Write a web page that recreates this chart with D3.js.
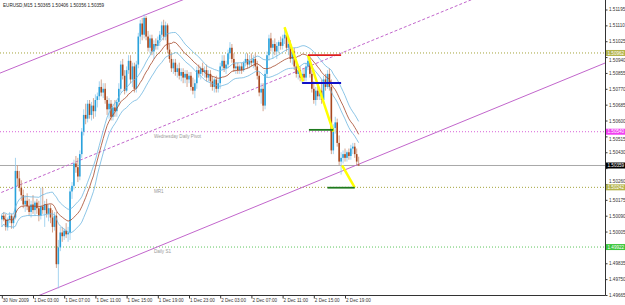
<!DOCTYPE html>
<html>
<head>
<meta charset="utf-8">
<script src="https://cdn.jsdelivr.net/npm/d3@7/dist/d3.min.js"></script>
<style>
    body { margin: 0; background: #fff; }
    svg { display: block; font-family: "Liberation Sans", Arial, sans-serif; }
</style>
</head>
<body>
<div id="chart"></div>
<script>

var title = "EURUSD,M15  1.50365 1.50406 1.50356 1.50359";

// M15 bars, [open, high, low, close], first bar 30 Nov 23:00
var bars = [
    [1.5007,1.5010,1.5003,1.5009],[1.5009,1.5011,1.5006,1.5007],[1.5007,1.5010,1.5001,1.5003],[1.5003,1.5008,1.5001,1.5007],
    [1.5007,1.5011,1.5005,1.5009],[1.5009,1.5010,1.5002,1.5005],[1.5005,1.5009,1.5002,1.5008],[1.5008,1.5040,1.5007,1.5033],
    [1.5033,1.5036,1.5025,1.5029],[1.5029,1.5033,1.5022,1.5024],[1.5024,1.5028,1.5017,1.5020],[1.5020,1.5023,1.5013,1.5015],
    [1.5015,1.5020,1.5011,1.5017],[1.5017,1.5021,1.5012,1.5014],[1.5014,1.5018,1.5009,1.5011],[1.5011,1.5017,1.5008,1.5015],
    [1.5015,1.5020,1.5010,1.5012],[1.5012,1.5017,1.5009,1.5016],[1.5016,1.5018,1.5010,1.5013],[1.5013,1.5017,1.5006,1.5009],
    [1.5009,1.5024,1.5007,1.5014],[1.5014,1.5024,1.5010,1.5012],[1.5012,1.5017,1.5003,1.5015],[1.5015,1.5018,1.5008,1.5010],
    [1.5010,1.5015,1.5006,1.5013],[1.5013,1.5015,1.5005,1.5008],[1.5008,1.5012,1.5000,1.5003],[1.5003,1.5011,1.5001,1.5009],
    [1.5009,1.5011,1.4981,1.4983],[1.4983,1.4996,1.4970,1.4992],[1.4992,1.5003,1.4990,1.5000],[1.5000,1.5003,1.4995,1.4998],
    [1.4998,1.5002,1.4996,1.5001],[1.5001,1.5005,1.4997,1.4999],[1.4999,1.5003,1.4995,1.5000],[1.5000,1.5024,1.4996,1.5022],
    [1.5022,1.5027,1.5018,1.5025],[1.5025,1.5039,1.5023,1.5037],[1.5037,1.5041,1.5032,1.5035],[1.5035,1.5040,1.5027,1.5030],
    [1.5030,1.5044,1.5028,1.5042],[1.5042,1.5056,1.5040,1.5054],[1.5054,1.5066,1.5052,1.5063],[1.5063,1.5069,1.5058,1.5061],
    [1.5061,1.5071,1.5059,1.5069],[1.5069,1.5071,1.5061,1.5063],[1.5063,1.5070,1.5060,1.5068],[1.5068,1.5072,1.5061,1.5065],
    [1.5065,1.5074,1.5062,1.5071],[1.5071,1.5075,1.5067,1.5073],[1.5073,1.5081,1.5071,1.5078],[1.5078,1.5082,1.5073,1.5075],
    [1.5075,1.5080,1.5072,1.5077],[1.5077,1.5080,1.5069,1.5071],[1.5071,1.5073,1.5063,1.5066],[1.5066,1.5072,1.5061,1.5069],
    [1.5069,1.5071,1.5060,1.5062],[1.5062,1.5069,1.5060,1.5067],[1.5067,1.5071,1.5062,1.5065],[1.5065,1.5071,1.5062,1.5070],
    [1.5070,1.5080,1.5068,1.5077],[1.5077,1.5092,1.5075,1.5090],[1.5090,1.5093,1.5082,1.5084],[1.5084,1.5087,1.5074,1.5076],
    [1.5076,1.5089,1.5075,1.5087],[1.5087,1.5095,1.5085,1.5092],[1.5092,1.5095,1.5080,1.5082],[1.5082,1.5091,1.5078,1.5089],
    [1.5089,1.5091,1.5075,1.5077],[1.5077,1.5092,1.5075,1.5090],[1.5090,1.5107,1.5088,1.5105],[1.5105,1.5114,1.5101,1.5112],
    [1.5112,1.5115,1.5103,1.5106],[1.5106,1.5117,1.5104,1.5115],[1.5115,1.5116,1.5103,1.5105],[1.5105,1.5108,1.5097,1.5099],
    [1.5099,1.5106,1.5096,1.5104],[1.5104,1.5106,1.5095,1.5097],[1.5097,1.5103,1.5093,1.5101],[1.5101,1.5104,1.5098,1.5100],
    [1.5100,1.5105,1.5098,1.5103],[1.5103,1.5108,1.5100,1.5106],[1.5106,1.5113,1.5104,1.5111],[1.5111,1.5114,1.5103,1.5105],
    [1.5105,1.5113,1.5103,1.5111],[1.5111,1.5112,1.5096,1.5098],[1.5098,1.5101,1.5091,1.5093],[1.5093,1.5096,1.5086,1.5088],
    [1.5088,1.5093,1.5085,1.5091],[1.5091,1.5093,1.5084,1.5086],[1.5086,1.5090,1.5083,1.5088],[1.5088,1.5091,1.5082,1.5084],
    [1.5084,1.5088,1.5081,1.5086],[1.5086,1.5088,1.5080,1.5083],[1.5083,1.5087,1.5080,1.5085],[1.5085,1.5087,1.5078,1.5082],
    [1.5082,1.5086,1.5080,1.5084],[1.5084,1.5086,1.5076,1.5078],[1.5078,1.5083,1.5074,1.5076],[1.5076,1.5082,1.5072,1.5080],
    [1.5080,1.5089,1.5077,1.5087],[1.5087,1.5090,1.5083,1.5085],[1.5085,1.5089,1.5082,1.5088],[1.5088,1.5091,1.5084,1.5086],
    [1.5086,1.5089,1.5083,1.5087],[1.5087,1.5090,1.5081,1.5083],[1.5083,1.5087,1.5081,1.5085],[1.5085,1.5087,1.5078,1.5081],
    [1.5081,1.5084,1.5076,1.5078],[1.5078,1.5083,1.5075,1.5082],[1.5082,1.5084,1.5075,1.5077],[1.5077,1.5082,1.5075,1.5080],
    [1.5080,1.5091,1.5077,1.5089],[1.5089,1.5095,1.5087,1.5092],[1.5092,1.5095,1.5086,1.5088],[1.5088,1.5092,1.5085,1.5090],
    [1.5090,1.5098,1.5088,1.5096],[1.5096,1.5102,1.5093,1.5099],[1.5099,1.5101,1.5091,1.5093],[1.5093,1.5096,1.5086,1.5088],
    [1.5088,1.5091,1.5085,1.5089],[1.5089,1.5091,1.5085,1.5087],[1.5087,1.5090,1.5085,1.5089],[1.5089,1.5091,1.5085,1.5087],
    [1.5087,1.5092,1.5086,1.5091],[1.5091,1.5096,1.5089,1.5093],[1.5093,1.5096,1.5088,1.5090],[1.5090,1.5095,1.5088,1.5092],
    [1.5092,1.5096,1.5089,1.5091],[1.5091,1.5095,1.5088,1.5093],[1.5093,1.5096,1.5087,1.5089],[1.5089,1.5092,1.5082,1.5084],
    [1.5084,1.5086,1.5073,1.5075],[1.5075,1.5080,1.5069,1.5077],[1.5077,1.5080,1.5065,1.5068],[1.5068,1.5087,1.5066,1.5085],
    [1.5085,1.5097,1.5083,1.5095],[1.5095,1.5106,1.5092,1.5104],[1.5104,1.5107,1.5097,1.5099],[1.5099,1.5103,1.5093,1.5101],
    [1.5101,1.5104,1.5095,1.5097],[1.5097,1.5102,1.5093,1.5100],[1.5100,1.5103,1.5096,1.5102],[1.5102,1.5105,1.5098,1.5100],
    [1.5100,1.5106,1.5098,1.5104],[1.5104,1.5110,1.5101,1.5106],[1.5106,1.5108,1.5097,1.5099],[1.5099,1.5103,1.5095,1.5101],
    [1.5101,1.5103,1.5091,1.5093],[1.5093,1.5099,1.5090,1.5097],[1.5097,1.5099,1.5087,1.5089],[1.5089,1.5093,1.5083,1.5085],
    [1.5085,1.5090,1.5082,1.5087],[1.5087,1.5089,1.5081,1.5083],[1.5083,1.5087,1.5080,1.5085],[1.5085,1.5088,1.5081,1.5083],
    [1.5083,1.5091,1.5081,1.5089],[1.5089,1.5095,1.5087,1.5092],[1.5092,1.5095,1.5083,1.5085],[1.5085,1.5087,1.5075,1.5077],
    [1.5077,1.5081,1.5069,1.5071],[1.5071,1.5078,1.5068,1.5076],[1.5076,1.5080,1.5071,1.5073],[1.5073,1.5078,1.5071,1.5076],
    [1.5076,1.5082,1.5069,1.5071],[1.5071,1.5084,1.5070,1.5082],[1.5082,1.5085,1.5076,1.5078],[1.5078,1.5087,1.5077,1.5085],
    [1.5085,1.5088,1.5076,1.5078],[1.5078,1.5082,1.5042,1.5044],[1.5044,1.5058,1.5042,1.5056],[1.5056,1.5062,1.5053,1.5059],
    [1.5059,1.5061,1.5046,1.5048],[1.5048,1.5052,1.5036,1.5038],[1.5038,1.5043,1.5031,1.5040],[1.5040,1.5044,1.5037,1.5042],
    [1.5042,1.5045,1.5038,1.5040],[1.5040,1.5044,1.5038,1.5043],[1.5043,1.5045,1.5039,1.5041],[1.5041,1.5047,1.5039,1.5045],
    [1.5045,1.5048,1.5042,1.5046],[1.5046,1.5048,1.5040,1.5042],[1.5042,1.5045,1.5036,1.5038],[1.50365,1.50406,1.50356,1.50359]
];

var timeLabels = ["30 Nov 2009", "1 Dec 03:00", "1 Dec 07:00", "1 Dec 11:00", "1 Dec 15:00", "1 Dec 19:00",
    "1 Dec 23:00", "2 Dec 03:00", "2 Dec 07:00", "2 Dec 11:00", "2 Dec 15:00", "2 Dec 19:00"];
var timeLabelBars = [0, 16, 32, 48, 64, 80, 96, 112, 128, 144, 160, 176];

var priceTicks = [1.51195, 1.51110, 1.51025, 1.50940, 1.50855, 1.50770, 1.50685, 1.50600, 1.50515, 1.50430,
    1.50345, 1.50260, 1.50175, 1.50090, 1.50005, 1.49920, 1.49835, 1.49750, 1.49665];

// pivot levels drawn as dotted horizontal lines
var levelNames = ["", "Wednesday  Daily Pivot", "MR1", "Daily S1"];
var levelPrices = [1.50962, 1.50540, 1.50242, 1.49922];
var bidPrice = 1.50359;

// trend channel, [bar, price] anchors
var channelTop = [[16, 1.50925], [90, 1.51235]];
var channelMid = [[16, 1.50284], [153, 1.50871]];
var channelLow = [[60, 1.49838], [180, 1.50353]];

// yellow swing lines and short level marks, [bar0, price0, bar1, price1]
var swingLines = [[145, 1.5110, 154.5, 1.5081], [157, 1.5095, 170, 1.5054], [174.5, 1.5036, 181, 1.5024]];
var markRed = [157, 1.50951, 174, 1.50951];
var markBlue = [154, 1.50801, 174, 1.50801];
var markGreen = [[157.5, 1.5055, 170, 1.5055], [167, 1.5024, 181, 1.5024]];

var maPeriod = 20;

(function() {
    var W = 625, H = 305,
        plotW = 605, plotH = 295;

    var svg = d3.select("#chart").append("svg")
        .attr("width", W).attr("height", H);

    var x = d3.scaleLinear().domain([0, 183]).range([1.8, 1.8 + 1.95 * 183]);
    var y = d3.scaleLinear().domain([1.49665, 1.51195]).range([295, 9.5]);

    svg.append("rect").attr("width", W).attr("height", H).attr("fill", "#fff");

    svg.append("defs").append("clipPath").attr("id", "plot-clip")
        .append("rect").attr("x", 0).attr("y", 0).attr("width", plotW).attr("height", plotH);

    var plot = svg.append("g").attr("clip-path", "url(#plot-clip)");

    // pivot levels
    var levelColors = ["#a3a33a", "#d860d8", "#a3a33a", "#5cc65c"];
    levelPrices.forEach(function(p, i) {
        plot.append("line")
            .attr("x1", 0).attr("x2", plotW)
            .attr("y1", y(p)).attr("y2", y(p))
            .attr("stroke", levelColors[i])
            .attr("stroke-width", 1)
            .attr("stroke-dasharray", "1,2");
        if (levelNames[i]) {
            plot.append("text")
                .attr("x", x(78)).attr("y", y(p) + 6)
                .attr("font-size", 4.6).attr("fill", "#9a9a9a")
                .text(levelNames[i]);
        }
    });

    plot.append("line")
        .attr("x1", 0).attr("x2", plotW)
        .attr("y1", y(bidPrice)).attr("y2", y(bidPrice))
        .attr("stroke", "#a8a8a8").attr("stroke-width", 1);

    // channel lines, extended over the whole plot
    function ray(pts) {
        var s = (pts[1][1] - pts[0][1]) / (pts[1][0] - pts[0][0]);
        var b0 = -5, b1 = 320;
        return [[b0, pts[0][1] + s * (b0 - pts[0][0])], [b1, pts[0][1] + s * (b1 - pts[0][0])]];
    }
    var lineGen = d3.line().x(d => x(d[0])).y(d => y(d[1]));

    [channelTop, channelMid, channelLow].forEach(function(pts, i) {
        plot.append("path")
            .attr("d", lineGen(ray(pts)))
            .attr("fill", "none")
            .attr("stroke", "#c266cc")
            .attr("stroke-width", 1)
            .attr("stroke-dasharray", i == 1 ? "3,2" : null);
    });

    // candles
    var candle = plot.append("g").selectAll("g")
        .data(bars).enter().append("g");

    candle.append("line")
        .attr("x1", (d, i) => x(i)).attr("x2", (d, i) => x(i))
        .attr("y1", d => y(d[1])).attr("y2", d => y(d[2]))
        .attr("stroke", d => d[3] >= d[0] ? "#8fc9ec" : "#c98e72")
        .attr("stroke-width", 0.8);

    candle.append("rect")
        .attr("x", (d, i) => x(i) - 0.8)
        .attr("width", 1.6)
        .attr("y", d => y(Math.max(d[0], d[3])))
        .attr("height", d => Math.max(0.8, Math.abs(y(d[0]) - y(d[3]))))
        .attr("fill", d => d[3] >= d[0] ? "#2aa2dc" : "#a8481e");

    // moving average channel from closes, highs and lows
    function sma(col) {
        return bars.map(function(d, i) {
            var from = Math.max(0, i - maPeriod + 1);
            return [i, d3.mean(bars.slice(from, i + 1), b => b[col])];
        });
    }
    plot.append("path").attr("d", lineGen(sma(1)))
        .attr("fill", "none").attr("stroke", "#6fb6e0").attr("stroke-width", 0.8);
    plot.append("path").attr("d", lineGen(sma(2)))
        .attr("fill", "none").attr("stroke", "#6fb6e0").attr("stroke-width", 0.8);
    plot.append("path").attr("d", lineGen(sma(3)))
        .attr("fill", "none").attr("stroke", "#a5482a").attr("stroke-width", 0.8);

    // swing lines and marks
    function seg(s, color, w) {
        plot.append("line")
            .attr("x1", x(s[0])).attr("y1", y(s[1]))
            .attr("x2", x(s[2])).attr("y2", y(s[3]))
            .attr("stroke", color).attr("stroke-width", w);
    }
    swingLines.forEach(s => seg(s, "#ffff00", 2.5));
    seg(markRed, "#dd1c1c", 1.8);
    seg(markBlue, "#1010c8", 1.8);
    markGreen.forEach(s => seg(s, "#1e7a1e", 1.8));

    // frame
    svg.append("line").attr("x1", 0).attr("x2", plotW + 0.5).attr("y1", plotH + 0.5).attr("y2", plotH + 0.5)
        .attr("stroke", "#333").attr("stroke-width", 1);
    svg.append("line").attr("x1", plotW + 0.5).attr("x2", plotW + 0.5).attr("y1", 0).attr("y2", plotH + 0.5)
        .attr("stroke", "#333").attr("stroke-width", 1);

    // highlighted price boxes: levels, bid
    var boxes = [[levelPrices[0], "#b3b34a"], [levelPrices[1], "#f040f0"],
        [bidPrice, "#000"], [levelPrices[2], "#b3b34a"], [levelPrices[3], "#3cc63c"]];

    // right price axis; labels sitting under a box are hidden or nudged off it
    var yAxis = d3.axisRight(y)
        .tickValues(priceTicks)
        .tickSize(2)
        .tickPadding(1.5)
        .tickFormat(d3.format(".5f"));

    var ya = svg.append("g")
        .attr("transform", "translate(" + (plotW + 0.5) + ",0)")
        .call(yAxis);
    ya.select(".domain").remove();
    ya.selectAll("line").attr("stroke", "#333");
    ya.selectAll("text").attr("font-size", 4.6).attr("fill", "#333")
        .attr("font-family", "'Liberation Sans', Arial, sans-serif")
        .each(function(t) {
            var near = d3.least(boxes, b => Math.abs(y(b[0]) - y(t)));
            var dist = y(t) - y(near[0]);
            if (Math.abs(dist) < 3) d3.select(this).text("");
            else if (Math.abs(dist) < 7) d3.select(this).attr("y", dist > 0 ? 2.5 : -2.5);
        });

    boxes.forEach(function(b) {
        var g = svg.append("g").attr("transform", "translate(" + (plotW + 1) + "," + y(b[0]) + ")");
        g.append("rect").attr("x", 0).attr("y", -3).attr("width", 19).attr("height", 6).attr("fill", b[1]);
        g.append("text").attr("x", 1.5).attr("y", 1.6)
            .attr("font-size", 4.6).attr("fill", "#fff")
            .text(d3.format(".5f")(b[0]));
    });

    // bottom time axis
    var xAxis = d3.axisBottom(x)
        .tickValues(timeLabelBars)
        .tickSize(3)
        .tickFormat((d, i) => timeLabels[i]);

    var xa = svg.append("g")
        .attr("transform", "translate(0," + (plotH + 0.5) + ")")
        .call(xAxis);
    xa.select(".domain").remove();
    xa.selectAll("line").attr("stroke", "#333");
    xa.selectAll("text")
        .attr("font-size", 4.6).attr("fill", "#333")
        .attr("text-anchor", "start")
        .attr("dx", 0.5).attr("y", 3)
        .attr("font-family", "'Liberation Sans', Arial, sans-serif");

    // title
    svg.append("text")
        .attr("x", 3).attr("y", 7)
        .attr("font-size", 4.6).attr("fill", "#222")
        .text(title);
})();
</script>
</body>
</html>
